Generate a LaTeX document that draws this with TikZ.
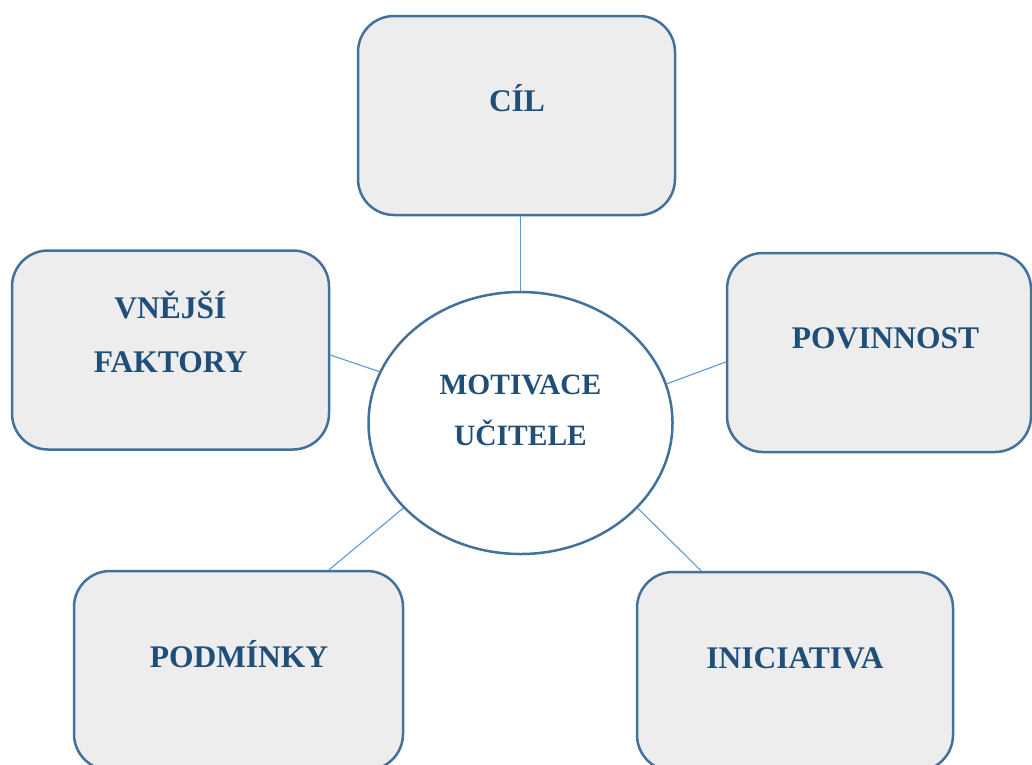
\documentclass[tikz,border=0pt]{standalone}
\usepackage{fontspec}
\setmainfont{Liberation Serif}
\usepackage{tikz}
\usetikzlibrary{shapes.geometric,positioning}

\definecolor{boxfill}{HTML}{EDEDED}
\definecolor{boxline}{HTML}{41719C}
\definecolor{txtblue}{HTML}{1F4E79}
\definecolor{linkblue}{HTML}{5B9BD5}

\begin{document}
\begin{tikzpicture}[x=1pt,y=-1pt,
	box/.style={draw=boxline,fill=boxfill,line width=2.5pt,rounded corners=36pt,inner sep=0pt,minimum height=199pt},
	hub/.style={ellipse,draw=boxline,line width=2.5pt,inner sep=0pt,minimum width=304pt,minimum height=262pt},
	lbl/.style={text=txtblue,font=\bfseries\fontsize{31.5}{54}\selectfont,align=center,inner sep=0pt,anchor=base},
	link/.style={draw=linkblue,line width=1.1pt}]
	\useasboundingbox (0,0) rectangle (1032,764);
	% boxes round the centre
	\node[box,minimum width=317pt] (cil)    at (516.5,115.5) {};
	\node[box,minimum width=317pt] (vnejsi) at (170.5,350)   {};
	\node[box,minimum width=304pt] (povin)  at (879,352.5)   {};
	\node[box,minimum width=329pt] (podm)   at (238.5,670.5) {};
	\node[box,minimum width=316pt] (inic)   at (795,671.5)   {};
	\node[hub] (motiv) at (520.5,423) {};
	% texts
	\node[lbl] (cilt)    at (517,111)   {CÍL};
	\node[lbl] (vnejsit) at (170.5,372) {VNĚJŠÍ\\FAKTORY};
	\node[lbl] (povint)  at (885.5,348) {POVINNOST};
	\node[lbl] (podmt)   at (239,667)   {PODMÍNKY};
	\node[lbl] (inict)   at (795,668)   {INICIATIVA};
	\node[lbl,font=\bfseries\fontsize{29.5}{51}\selectfont] (motivt) at (520.5,445) {MOTIVACE\\UČITELE};
	% connectors
	\path[link]
		(motiv.north) edge (cil.south -| motiv.north)
		(motiv.160) edge ([yshift=-5pt]vnejsi.east)
		(motiv.15)  edge ([yshift=-9.5pt]povin.west)
		(motiv.216) edge ([xshift=90.5pt]podm.north)
		(motiv.324) edge ([xshift=-94pt]inic.north);
\end{tikzpicture}
\end{document}
